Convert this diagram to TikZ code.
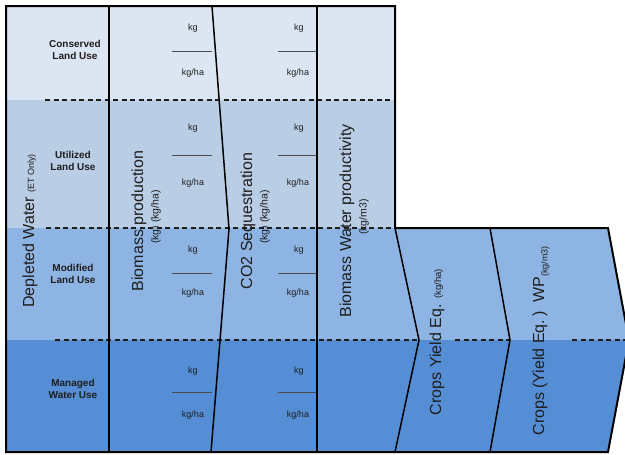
\documentclass[tikz,border=0pt]{standalone}
\usepackage{fontspec}
\setmainfont{Liberation Sans}
\definecolor{cA}{HTML}{DCE6F2}
\definecolor{cB}{HTML}{B9CDE5}
\definecolor{cC}{HTML}{8EB4E3}
\definecolor{cD}{HTML}{558ED5}
\definecolor{ink}{HTML}{1E1E1E}
\begin{document}
\begin{tikzpicture}[x=1pt,y=-1pt,
  outl/.style={line width=2pt, draw=black, line join=miter},
  sep/.style={line width=1.5pt, draw=black},
  dsh/.style={line width=1.1pt, dash pattern=on 5pt off 3.5pt, draw=ink},
  bar/.style={line width=0.9pt, draw=black!70},
  unit/.style={font=\fontsize{9}{10}\selectfont, text=ink, inner sep=0pt},
  rowlab/.style={font=\fontsize{10}{12}\selectfont\bfseries, align=center, text=ink, inner sep=0pt},
  vtext/.style={rotate=90, font=\fontsize{16}{18}\selectfont, text=ink, inner sep=0pt},
  vsub/.style={rotate=90, font=\fontsize{10.5}{12}\selectfont, text=ink, inner sep=0pt},
]
\clip (0,0) rectangle (625,455);
\fill[white] (0,0) rectangle (625,455);
% key points
\coordinate (tl) at (6,6);
\coordinate (tr) at (395,6);
\coordinate (ext) at (395,228);
\coordinate (extr) at (608,228);
\coordinate (tip) at (629,340);
\coordinate (br) at (608,452);
\coordinate (bl) at (6,452);
% band fills
\begin{scope}
\clip (tl) -- (tr) -- (ext) -- (extr) -- (tip) -- (br) -- (bl) -- cycle;
\fill[cA] (0,0) rectangle (640,100);
\fill[cB] (0,100) rectangle (640,228);
\fill[cC] (0,228) rectangle (640,340);
\fill[cD] (0,340) rectangle (640,460);
\end{scope}
% dashed band boundaries
\draw[dsh] (45,100) -- (395,100);
\draw[dsh] (46,228) -- (395,228);
\draw[dsh] (55,340) -- (419,340);
\draw[dsh] (455,340) -- (510,340);
\draw[dsh] (572,340) -- (626,340);
% fraction bars
\foreach \y in {51,155,273,392} {
  \draw[bar] (172,\y) -- (212,\y);
  \draw[bar] (278,\y) -- (317,\y);
}
% column separators
\draw[sep] (109,6) -- (109,452);
\draw[sep] (212,6) -- (229,229) -- (211,452);
\draw[sep] (317,6) -- (317,452);
\draw[sep] (ext) -- (419,340) -- (395,452);
\draw[sep] (490,228) -- (510,340) -- (490,452);
% outline
\draw[outl] (tl) -- (tr) -- (ext) -- (extr) -- (tip) -- (br) -- (bl) -- cycle;
% row labels
\node[rowlab] (conserved) at (75,50) {Conserved\\Land Use};
\node[rowlab] (utilized) at (73,161) {Utilized\\Land Use};
\node[rowlab] (modified) at (73,274) {Modified\\Land Use};
\node[rowlab] (managed) at (73,389) {Managed\\Water Use};
% unit labels
\foreach \r/\a/\b in {1/28/73, 2/128/183, 3/250/293, 4/371/415} {
  \node[unit] (kgA\r) at (193,\a) {kg};
  \node[unit] (kghaA\r) at (193,\b) {kg/ha};
  \node[unit] (kgB\r) at (299,\a) {kg};
  \node[unit] (kghaB\r) at (298,\b) {kg/ha};
}
% vertical titles
\node[vtext] (depleted) at (30,231) {Depleted Water {\fontsize{9}{10}\selectfont (ET Only)}};
\node[vtext] (biomass) at (139,221) {Biomass production};
\node[vsub] (biomassu) at (156,217) {(kg) (kg/ha)};
\node[vtext] (co2) at (248,221) {CO2 Sequestration};
\node[vsub] (co2u) at (265,217) {(kg) (kg/ha)};
\node[vtext] (bwp) at (347,221) {Biomass Water productivity};
\node[vsub] (bwpu) at (364,217) {(kg/m3)};
\node[vtext] (cye) at (437,342) {Crops Yield Eq. {\fontsize{9.5}{10}\selectfont (kg/ha)}};
\node[vtext] (cwp) at (541,341) {Crops (Yield Eq.\,)\ \ WP\raisebox{-0.4ex}{\fontsize{9}{10}\selectfont(kg/m3)}};
\end{tikzpicture}
\end{document}
